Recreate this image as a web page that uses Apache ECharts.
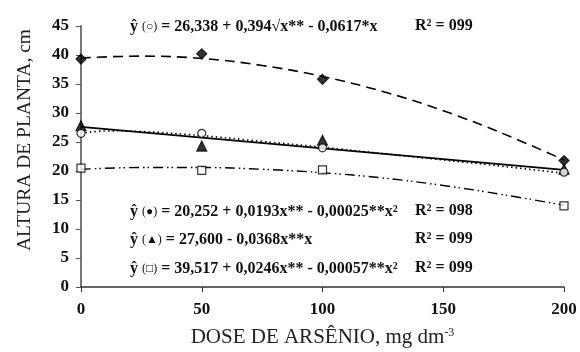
<!DOCTYPE html>
<html>
<head>
<meta charset="utf-8">
<script src="https://cdn.jsdelivr.net/npm/echarts@6/dist/echarts.min.js"></script>
<style>
  html, body { margin: 0; padding: 0; background: #fff; }
  #chart { width: 580px; height: 352px; }
</style>
</head>
<body>
<div id="chart"></div>
<script>
// observed points
const doses = [0, 50, 100, 200]
const diamondVals = [39.3, 40.2, 35.8, 21.8]
const triangleVals = [27.8, 24.3, 25.3, 20.3]
const circleVals = [26.5, 26.5, 24.0, 19.8]
const squareVals = [20.5, 20.1, 20.2, 14.0]

// fitted curves
const curveX = [0, 25, 50, 75, 100, 125, 150, 175, 200]
const dashedCurve = [39.5, 39.8, 39.4, 38.2, 36.3, 33.7, 30.4, 26.4, 21.9]
const dottedX = [0, 10, 25, 50, 75, 100, 125, 150, 175, 200]
const dottedCurve = [26.5, 26.9, 26.8, 26.1, 25.1, 24.1, 23.0, 21.9, 20.8, 19.6]
const dashDotCurve = [20.3, 20.6, 20.6, 20.3, 19.7, 18.8, 17.5, 15.9, 14.1]
const solidX = [0, 200]
const solidLine = [27.6, 20.2]

const xTicks = [0, 50, 100, 150, 200]

const pairs = (xs, ys) => xs.map((x, i) => [x, ys[i]])

const chart = echarts.init(document.getElementById('chart'))

const serif = '"Liberation Serif", "DejaVu Serif", serif'

function line(xs, ys, type, width) {
  return {
    type: 'line', data: pairs(xs, ys), smooth: 0.4, symbol: 'none', silent: true,
    lineStyle: { color: '#000', width: width, type: type }, z: 2
  }
}
function marks(ys, symbol, size, fill) {
  return {
    type: 'scatter', data: pairs(doses, ys), symbol: symbol, symbolSize: size,
    itemStyle: { color: fill, borderColor: '#000', borderWidth: 1.2 }, z: 5
  }
}

const eqStyle = {
  fontFamily: serif, fontWeight: 'bold', fontSize: 16, fill: '#111',
  verticalAlign: 'middle',
  rich: {
    s: { fontFamily: serif, fontSize: 12, fontWeight: 'normal' },
    sup: { fontFamily: serif, fontWeight: 'bold', fontSize: 10, verticalAlign: 'top', lineHeight: 12 }
  }
}
function eq(x, y, text) {
  return { type: 'text', x: x, y: y, style: Object.assign({ text: text }, eqStyle) }
}

const option = {
  animation: false,
  grid: { left: 81, right: 16, top: 26, bottom: 65, containLabel: false, outerBoundsMode: 'none' },
  xAxis: {
    type: 'value', min: 0, max: 200, interval: 50,
    name: '{a|DOSE DE ARSÊNIO, mg dm}{b|-3}',
    nameLocation: 'middle', nameGap: 40,
    nameTextStyle: {
      rich: {
        a: { fontFamily: serif, fontSize: 21, color: '#222' },
        b: { fontFamily: serif, fontSize: 12, color: '#222', verticalAlign: 'top', lineHeight: 14 }
      }
    },
    axisLine: { lineStyle: { color: '#333', width: 1.5 } },
    axisTick: { inside: false, length: 5, lineStyle: { color: '#333' } },
    axisLabel: {
      fontFamily: serif, fontWeight: 'bold', fontSize: 17, color: '#111', margin: 14,
      formatter: v => xTicks.includes(v) ? String(v) : ''
    },
    splitLine: { show: false }
  },
  yAxis: {
    type: 'value', min: 0, max: 45, interval: 5,
    axisLine: { show: true, lineStyle: { color: '#777', width: 2 } },
    axisTick: { show: true, length: 5, lineStyle: { color: '#555' } },
    axisLabel: { fontFamily: serif, fontWeight: 'bold', fontSize: 17, color: '#111', margin: 12 },
    splitLine: { show: false }
  },
  series: [
    line(curveX, dashedCurve, [10, 6], 1.6),
    line(solidX, solidLine, 'solid', 1.6),
    line(dottedX, dottedCurve, [1.5, 3], 1.6),
    line(curveX, dashDotCurve, [10, 4, 1.5, 3, 1.5, 4], 1.4),
    marks(diamondVals, 'diamond', 10, '#000'),
    marks(triangleVals, 'triangle', 10, '#000'),
    marks(squareVals, 'rect', 8, '#fff'),
    marks(circleVals, 'circle', 8, '#fff')
  ],
  graphic: [
    {
      type: 'text', x: 25, y: 140, rotation: Math.PI / 2,
      style: {
        text: 'ALTURA DE PLANTA, cm', fontFamily: serif, fontSize: 19.5, fill: '#222',
        align: 'center', verticalAlign: 'middle'
      }
    },
    eq(130, 27, 'ŷ {s|(○)} = 26,338 + 0,394√x** - 0,0617*x'),
    eq(415, 26, 'R{sup|2} = 099'),
    eq(130, 212, 'ŷ {s|(●)} = 20,252 + 0,0193x** - 0,00025**x{sup|2}'),
    eq(415, 211, 'R{sup|2} = 098'),
    eq(130, 240, 'ŷ {s|(▲)} = 27,600 - 0,0368x**x'),
    eq(415, 239, 'R{sup|2} = 099'),
    eq(130, 269, 'ŷ {s|(□)} = 39,517 + 0,0246x** - 0,00057**x{sup|2}'),
    eq(415, 268, 'R{sup|2} = 099')
  ]
}

chart.setOption(option)
</script>
</body>
</html>
